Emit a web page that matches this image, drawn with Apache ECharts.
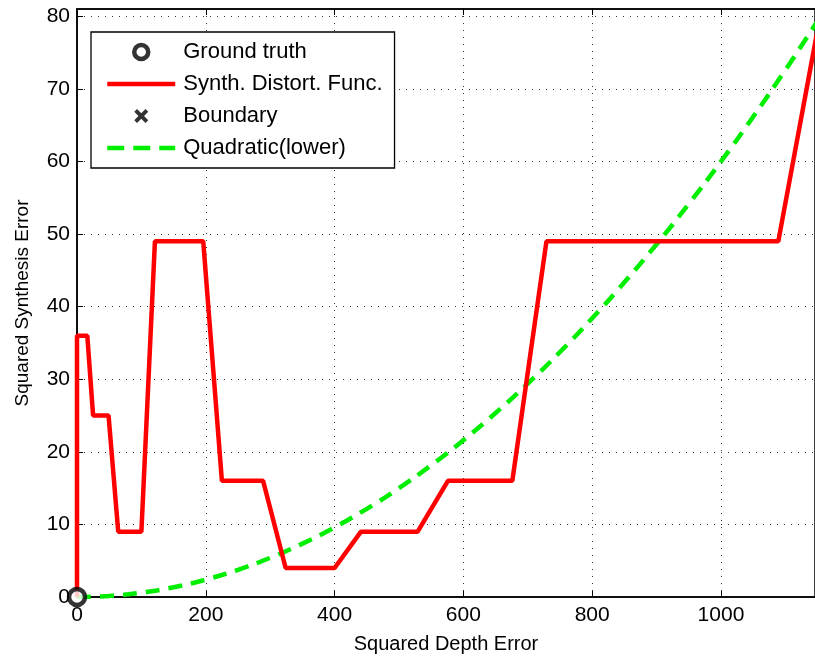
<!DOCTYPE html>
<html>
<head>
<meta charset="utf-8">
<script src="https://cdn.jsdelivr.net/npm/echarts@6/dist/echarts.min.js"></script>
<style>
  html, body { margin: 0; padding: 0; background: #fff; }
  #chart { width: 815px; height: 662px; }
</style>
</head>
<body>
<div id="chart"></div>
<script>
// red curve: squared depth error -> squared synthesis error
const synthX = [0, 0, 16, 25, 49, 64, 100, 121, 196, 225, 289, 324, 400, 441, 529, 576, 676, 729, 1089, 1156];
const synthY = [0, 36, 36, 25, 25, 9, 9, 49, 49, 16, 16, 4, 4, 9, 9, 16, 16, 49, 49, 81];

// green dashed lower bound
const quadX = [0, 50, 100, 150, 200, 250, 300, 350, 400, 450, 500, 550, 600, 650, 700, 750, 800, 850, 900, 950, 1000, 1050, 1100, 1150];
const quadY = [0, 0.15, 0.6, 1.35, 2.4, 3.75, 5.4, 7.35, 9.6, 12.15, 15, 18.15, 21.6, 25.35, 29.4, 33.75, 38.4, 43.35, 48.6, 54.15, 60, 66.15, 72.6, 79.35];

const truthPts = [[0, 0]];
const boundaryPts = [];

const zip = (xs, ys) => xs.map((x, i) => [x, ys[i]]);

const font = 'Liberation Sans, Arial, Helvetica, sans-serif';
const gridLine = { show: true, lineStyle: { color: '#333', width: 1, type: [1, 6] } };
const xMark = 'path://M2,0 L5,3 L8,0 L10,2 L7,5 L10,8 L8,10 L5,7 L2,10 L0,8 L3,5 L0,2 Z';
const hideDot = { color: 'rgba(0,0,0,0)', borderWidth: 0, opacity: 0 };
const RED = '#ff0000';
const GREEN = '#00ee00';

const chart = echarts.init(document.getElementById('chart'));
chart.setOption({
    animation: false,
    backgroundColor: '#fff',
    grid: {
        left: 77, right: 0, top: 9, bottom: 65,
        show: true, borderColor: '#000', borderWidth: 1.5
    },
    xAxis: [{
        type: 'value',
        min: 0, max: 1146, interval: 200,
        name: 'Squared Depth Error',
        nameLocation: 'middle',
        nameGap: 37,
        nameTextStyle: { fontFamily: font, fontSize: 20, color: '#000' },
        axisLine: { show: true, lineStyle: { color: '#000', width: 1.5 } },
        axisTick: { show: true, inside: true, length: 6, lineStyle: { color: '#000' } },
        axisLabel: { fontFamily: font, fontSize: 21, color: '#000', margin: 8, showMaxLabel: false,
                     formatter: v => String(v) },
        splitLine: gridLine
    }, {
        type: 'value', position: 'top',
        min: 0, max: 1146, interval: 200,
        axisLine: { show: true, lineStyle: { color: '#000', width: 1.5 } },
        axisTick: { show: true, inside: true, length: 6, lineStyle: { color: '#000' } },
        axisLabel: { show: false },
        splitLine: { show: false }
    }],
    yAxis: {
        type: 'value',
        min: 0, max: 81, interval: 10,
        name: 'Squared Synthesis Error',
        nameLocation: 'middle',
        nameGap: 45,
        nameTextStyle: { fontFamily: font, fontSize: 19, color: '#000' },
        axisLine: { show: true, lineStyle: { color: '#000', width: 1.5 } },
        axisTick: { show: true, inside: true, length: 6, lineStyle: { color: '#000' } },
        axisLabel: { fontFamily: font, fontSize: 21, color: '#000', margin: 7, showMaxLabel: false,
                     formatter: v => String(v) },
        splitLine: gridLine
    },
    legend: {
        orient: 'vertical',
        left: 91, top: 32,
        padding: [9, 12, 9, 14],
        itemWidth: 68, itemHeight: 14, itemGap: 10,
        backgroundColor: '#fff',
        borderColor: '#000', borderWidth: 1.3,
        textStyle: { fontFamily: font, fontSize: 22, color: '#000', padding: [0, 0, 0, 3] },
        data: [
            { name: 'Ground truth', icon: 'circle',
              itemStyle: { color: '#fff', borderColor: '#000', borderWidth: 4.5 } },
            { name: 'Synth. Distort. Func.', itemStyle: hideDot,
              lineStyle: { color: RED, width: 4.5 } },
            { name: 'Boundary', icon: xMark, itemStyle: { color: '#000' } },
            { name: 'Quadratic(lower)', itemStyle: hideDot,
              lineStyle: { color: GREEN, width: 4.5, type: [17, 9] } }
        ]
    },
    series: [
        {
            name: 'Synth. Distort. Func.',
            type: 'line',
            data: zip(synthX, synthY),
            showSymbol: false,
            symbol: 'none',
            lineStyle: { color: RED, width: 4.5 },
            itemStyle: { color: RED },
            z: 3
        },
        {
            name: 'Quadratic(lower)',
            type: 'line',
            data: zip(quadX, quadY),
            smooth: true,
            showSymbol: false,
            symbol: 'none',
            lineStyle: { color: GREEN, width: 4.5, type: [14, 9] },
            itemStyle: { color: GREEN },
            z: 2
        },
        {
            name: 'Boundary',
            type: 'scatter',
            data: boundaryPts,
            symbol: xMark,
            symbolSize: 10,
            itemStyle: { color: '#000' }
        },
        {
            name: 'Ground truth',
            type: 'scatter',
            data: truthPts,
            symbol: 'circle',
            symbolSize: 16,
            clip: false,
            itemStyle: { color: '#fff', borderColor: '#000', borderWidth: 4.5 },
            z: 5
        }
    ]
});
</script>
</body>
</html>
